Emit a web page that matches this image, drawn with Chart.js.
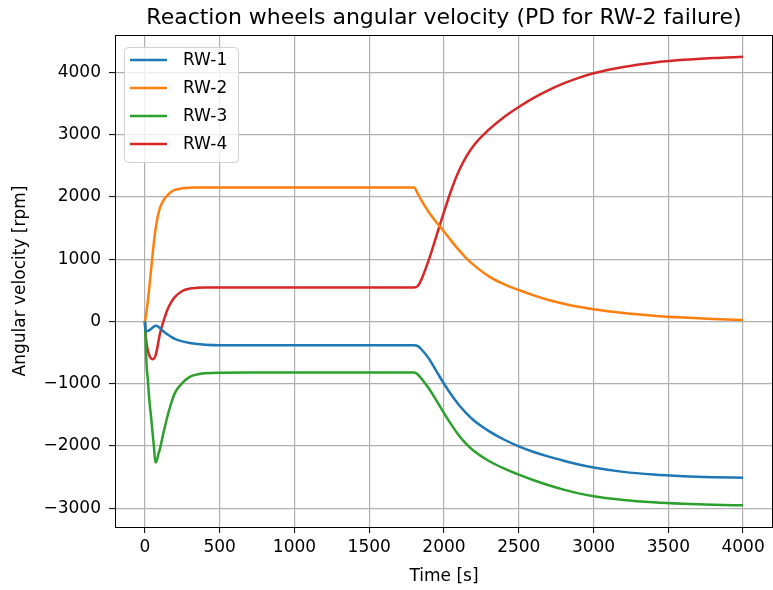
<!DOCTYPE html>
<html>
<head>
<meta charset="utf-8">
<script src="https://cdn.jsdelivr.net/npm/chart.js@4/dist/chart.umd.min.js"></script>
<style>
  body { margin: 0; background: #fff; }
  #wrap { width: 773px; height: 590px; }
</style>
</head>
<body>
<div id="wrap"><canvas id="rwChart" width="773" height="590"></canvas></div>
<script>
// sample times [s]
var times = [0, 5, 10, 20, 30, 40, 50, 60, 70, 80, 90, 100, 125, 150, 175, 200, 250, 300, 350, 400, 500,
  700, 1000, 1500, 1800, 1825, 1850, 1900, 1950, 2000, 2050, 2100, 2150, 2200, 2300, 2400, 2500,
  2600, 2700, 2800, 2900, 3000, 3200, 3400, 3600, 3800, 4000];

var rw1 = [0, -155, -155, -150, -140, -122, -100, -82, -70, -72, -85, -105, -160, -205, -245, -280, -320, -345, -362, -372, -380,
  -380, -380, -380, -380, -395, -450, -600, -800, -1000, -1180, -1340, -1475, -1590, -1760, -1895, -2005,
  -2095, -2170, -2235, -2295, -2345, -2415, -2458, -2484, -2500, -2510];

var rw2 = [0, 70, 150, 340, 560, 800, 1040, 1270, 1460, 1610, 1730, 1820, 1950, 2025, 2078, 2112, 2138, 2147, 2150, 2150, 2150,
  2150, 2150, 2150, 2150, 2050, 1940, 1750, 1590, 1446, 1290, 1145, 1015, 905, 725, 600, 505,
  420, 345, 285, 235, 195, 135, 92, 62, 40, 25];

var rw3 = [0, -300, -650, -950, -1280, -1500, -1760, -2000, -2265, -2230, -2130, -2050, -1780, -1530, -1320, -1150, -990, -890, -850, -833, -822,
  -820, -820, -820, -820, -850, -920, -1080, -1270, -1470, -1660, -1830, -1970, -2080, -2240, -2360, -2460,
  -2550, -2630, -2700, -2760, -2805, -2865, -2903, -2927, -2942, -2952];

var rw4 = [0, -200, -330, -470, -545, -590, -605, -595, -555, -460, -330, -200, 10, 185, 305, 390, 490, 528, 540, 545, 546,
  546, 546, 546, 546, 570, 680, 1000, 1380, 1760, 2120, 2420, 2650, 2830, 3080, 3280, 3445,
  3590, 3715, 3822, 3912, 3985, 4087, 4156, 4201, 4231, 4250];

var seriesNames = ['RW-1', 'RW-2', 'RW-3', 'RW-4'];
var seriesColors = ['#1f77b4', '#ff7f0e', '#2ca02c', '#d62728'];

var xTicks = [0, 500, 1000, 1500, 2000, 2500, 3000, 3500, 4000];
var yTicks = [-3000, -2000, -1000, 0, 1000, 2000, 3000, 4000];

var chartTitle = 'Reaction wheels angular velocity (PD for RW-2 failure)';

function toPoints(values) {
  return times.map(function (t, i) { return { x: t, y: values[i] }; });
}

function minusLabel(v) {
  return v < 0 ? '\u2212' + Math.abs(v) : String(v);
}

// box around the whole plot, like the matplotlib spines
var framePlugin = {
  id: 'frame',
  afterDraw: function (chart) {
    var a = chart.chartArea, ctx = chart.ctx;
    ctx.save();
    ctx.strokeStyle = '#000';
    ctx.lineWidth = 1;
    ctx.strokeRect(Math.round(a.left) + 0.5, Math.round(a.top) + 0.5,
      Math.round(a.right - a.left) - 1, Math.round(a.bottom - a.top));
    ctx.restore();
  }
};

// title centred over the plot area
var titlePlugin = {
  id: 'plotTitle',
  afterDraw: function (chart) {
    var a = chart.chartArea, ctx = chart.ctx;
    ctx.save();
    ctx.font = '22px "DejaVu Sans"';
    ctx.fillStyle = '#000';
    ctx.textAlign = 'center';
    ctx.textBaseline = 'middle';
    ctx.fillText(chartTitle, (a.left + a.right) / 2, 18);
    ctx.restore();
  }
};

// legend inside the upper left corner
var insideLegend = {
  id: 'insideLegend',
  afterDraw: function (chart) {
    var ctx = chart.ctx, a = chart.chartArea;
    var x0 = a.left + 9, y0 = a.top + 12, w = 114, h = 115, r = 4;
    ctx.save();
    ctx.beginPath();
    ctx.roundRect(x0 + 0.5, y0 + 0.5, w, h, r);
    ctx.fillStyle = 'rgba(255,255,255,0.8)';
    ctx.fill();
    ctx.strokeStyle = '#d0d0d0';
    ctx.lineWidth = 1;
    ctx.stroke();
    ctx.font = '17px "DejaVu Sans"';
    ctx.textBaseline = 'middle';
    ctx.fillStyle = '#000';
    chart.data.datasets.forEach(function (ds, i) {
      var yy = y0 + 13 + i * 28;
      ctx.strokeStyle = ds.borderColor;
      ctx.lineWidth = 2.5;
      ctx.beginPath();
      ctx.moveTo(x0 + 6, yy);
      ctx.lineTo(x0 + 43, yy);
      ctx.stroke();
      ctx.fillText(ds.label, x0 + 59, yy + 1);
    });
    ctx.restore();
  }
};

Chart.defaults.font.family = '"DejaVu Sans"';
Chart.defaults.color = '#000';

var datasets = [rw1, rw2, rw3, rw4].map(function (vals, i) {
  return {
    label: seriesNames[i],
    data: toPoints(vals),
    borderColor: seriesColors[i],
    backgroundColor: seriesColors[i],
    borderWidth: 2.5,
    pointRadius: 0,
    cubicInterpolationMode: 'monotone',
    fill: false
  };
});

new Chart(document.getElementById('rwChart'), {
  type: 'line',
  data: { datasets: datasets },
  plugins: [framePlugin, titlePlugin, insideLegend],
  options: {
    responsive: false,
    animation: false,
    layout: { padding: { left: 0, right: 0, top: 35, bottom: 0 } },
    plugins: {
      legend: { display: false },
      tooltip: { enabled: false },
      title: { display: false }
    },
    scales: {
      x: {
        type: 'linear',
        min: -200,
        max: 4200,
        afterBuildTicks: function (scale) {
          scale.ticks = xTicks.map(function (v) { return { value: v }; });
        },
        afterFit: function (scale) { scale.height = 63; },
        ticks: {
          font: { size: 17 },
          padding: 4,
          maxRotation: 0,
          callback: function (v) { return minusLabel(v); }
        },
        grid: { color: '#b0b0b0', lineWidth: 1.2, tickColor: '#000', tickLength: 6, tickWidth: 1 },
        border: { display: true, color: '#000', width: 1 },
        title: { display: true, text: 'Time [s]', font: { size: 17 }, padding: { top: 2, bottom: 3 } }
      },
      y: {
        type: 'linear',
        min: -3300,
        max: 4600,
        afterBuildTicks: function (scale) {
          scale.ticks = yTicks.map(function (v) { return { value: v }; });
        },
        afterFit: function (scale) { scale.width = 115; },
        ticks: {
          font: { size: 17 },
          padding: 8,
          callback: function (v) { return minusLabel(v); }
        },
        grid: { color: '#b0b0b0', lineWidth: 1.2, tickColor: '#000', tickLength: 6, tickWidth: 1 },
        border: { display: true, color: '#000', width: 1 },
        title: { display: true, text: 'Angular velocity [rpm]', font: { size: 17 }, padding: { top: 10, bottom: 4 } }
      }
    }
  }
});
</script>
</body>
</html>
